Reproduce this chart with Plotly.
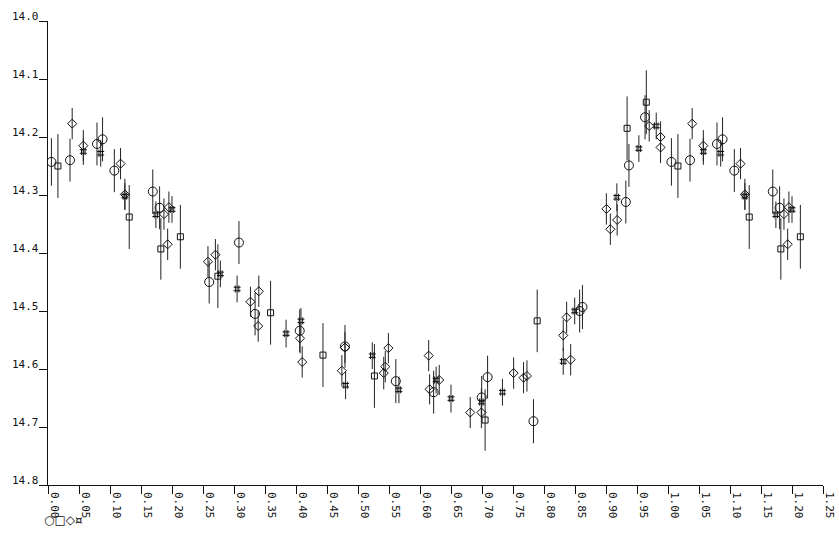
import plotly.graph_objects as go

# Phased photometry: (phase, magnitude, error) per observing set
circ_phase = [0.0055, 0.0355, 0.079, 0.088, 0.107, 0.169, 0.180, 0.260, 0.308, 0.334, 0.406,
              0.479, 0.561, 0.622, 0.6995, 0.709, 0.783, 0.8575, 0.862, 0.932, 0.937, 0.963]
circ_mag = [14.243, 14.240, 14.212, 14.204, 14.258, 14.294, 14.322, 14.450, 14.382, 14.505, 14.534,
            14.561, 14.621, 14.640, 14.649, 14.614, 14.690, 14.500, 14.493, 14.312, 14.249, 14.166]
circ_err = [0.041, 0.037, 0.037, 0.038, 0.037, 0.038, 0.037, 0.037, 0.037, 0.037, 0.037,
            0.037, 0.038, 0.037, 0.037, 0.037, 0.038, 0.037, 0.038, 0.037, 0.037, 0.038]

sq_phase = [0.016, 0.131, 0.182, 0.2135, 0.274, 0.359, 0.4435, 0.5265, 0.705, 0.789, 0.934, 0.965]
sq_mag = [14.250, 14.338, 14.393, 14.372, 14.440, 14.503, 14.576, 14.612, 14.688, 14.517, 14.185, 14.140]
sq_err = [0.055, 0.055, 0.053, 0.055, 0.055, 0.055, 0.055, 0.055, 0.053, 0.054, 0.055, 0.055]

dia_phase = [0.039, 0.057, 0.117, 0.124, 0.187, 0.193, 0.195, 0.258, 0.270, 0.3265, 0.340, 0.339,
             0.4065, 0.410, 0.474, 0.479, 0.5415, 0.544, 0.549, 0.614, 0.6155, 0.631, 0.681, 0.699,
             0.751, 0.767, 0.7725, 0.831, 0.8365, 0.843, 0.9006, 0.907, 0.918, 0.9697, 0.988, 0.988]
dia_mag = [14.177, 14.215, 14.246, 14.299, 14.333, 14.385, 14.321, 14.415, 14.403, 14.484, 14.466, 14.526,
           14.547, 14.588, 14.603, 14.563, 14.607, 14.596, 14.564, 14.577, 14.635, 14.619, 14.675, 14.675,
           14.607, 14.615, 14.612, 14.542, 14.511, 14.584, 14.324, 14.359, 14.343, 14.181, 14.200, 14.218]
dia_err = [0.027, 0.027, 0.027, 0.027, 0.027, 0.027, 0.027, 0.027, 0.027, 0.026, 0.027, 0.027,
           0.026, 0.027, 0.027, 0.027, 0.028, 0.027, 0.026, 0.027, 0.026, 0.026, 0.027, 0.027,
           0.027, 0.027, 0.027, 0.027, 0.027, 0.027, 0.027, 0.027, 0.027, 0.027, 0.027, 0.027]

hx_phase = [0.057, 0.085, 0.124, 0.174, 0.200, 0.278, 0.305, 0.384, 0.408, 0.480, 0.523,
            0.566, 0.626, 0.650, 0.699, 0.733, 0.831, 0.8495, 0.9175, 0.953, 0.981]
hx_mag = [14.225, 14.228, 14.302, 14.334, 14.325, 14.436, 14.462, 14.539, 14.517, 14.628, 14.577,
          14.636, 14.619, 14.651, 14.657, 14.640, 14.587, 14.500, 14.304, 14.220, 14.181]
hx_err = [0.023, 0.023, 0.023, 0.023, 0.023, 0.023, 0.023, 0.024, 0.022, 0.024, 0.023,
          0.023, 0.023, 0.024, 0.024, 0.023, 0.023, 0.023, 0.024, 0.023, 0.023]

x_ticks = [round(0.05 * i, 2) for i in range(26)]
x_tick_labels = ["%.2f" % v for v in x_ticks]
y_ticks = [14.0, 14.1, 14.2, 14.3, 14.4, 14.5, 14.6, 14.7, 14.8]
y_tick_labels = ["%.1f" % v for v in y_ticks]
legend_text = "○□◇¤"

WRAP = 0.25  # phases below this are repeated one cycle later


def extend(ph, mag, err):
    xs, ys, es = list(ph), list(mag), list(err)
    for p, m, e in zip(ph, mag, err):
        if p < WRAP:
            xs.append(p + 1.0)
            ys.append(m)
            es.append(e)
    return xs, ys, es


font_family = "DejaVu Sans Mono"
ink = "#111111"

fig = go.Figure()
series = [
    (circ_phase, circ_mag, circ_err, "circle-open", 9),
    (sq_phase, sq_mag, sq_err, "square-open", 6),
    (dia_phase, dia_mag, dia_err, "diamond-open", 7),
    (hx_phase, hx_mag, hx_err, "hash-open", 7),
]
for ph, mag, err, sym, size in series:
    xs, ys, es = extend(ph, mag, err)
    fig.add_trace(go.Scatter(
        x=xs, y=ys, mode="markers",
        marker=dict(symbol=sym, size=size, color=ink, line=dict(width=1, color=ink)),
        error_y=dict(type="data", array=es, visible=True, thickness=1, width=0, color="#222222"),
        showlegend=False, hoverinfo="skip",
    ))

annotations = []
for v, lab in zip(x_ticks, x_tick_labels):
    annotations.append(dict(
        x=v, y=0, xref="x", yref="paper", text=lab, textangle=90, showarrow=False,
        xanchor="left", yanchor="top", xshift=-2, yshift=-5,
        font=dict(family=font_family, size=11, color=ink),
    ))
for v, lab in zip(y_ticks, y_tick_labels):
    annotations.append(dict(
        x=0, y=v, xref="paper", yref="y", text=lab, showarrow=False,
        xanchor="right", yanchor="bottom", xshift=-7, yshift=-4,
        font=dict(family=font_family, size=11, color=ink),
    ))
annotations.append(dict(
    x=0, y=0, xref="paper", yref="paper", text=legend_text, showarrow=False,
    xanchor="left", yanchor="top", xshift=-6, yshift=-26,
    font=dict(family="DejaVu Sans", size=12, color=ink),
))

fig.update_layout(
    width=839, height=545,
    margin=dict(l=48, r=16, t=21, b=60),
    paper_bgcolor="white", plot_bgcolor="white",
    annotations=annotations,
    xaxis=dict(range=[0, 1.25], tickmode="array", tickvals=x_ticks, showticklabels=False,
               ticks="outside", ticklen=8, tickwidth=1, tickcolor=ink,
               showline=True, linecolor=ink, linewidth=1, showgrid=False, zeroline=False),
    yaxis=dict(range=[14.8, 14.0], tickmode="array", tickvals=y_ticks, showticklabels=False,
               ticks="outside", ticklen=8, tickwidth=1, tickcolor=ink,
               showline=True, linecolor=ink, linewidth=1, showgrid=False, zeroline=False),
)

fig.write_html("out.html")
